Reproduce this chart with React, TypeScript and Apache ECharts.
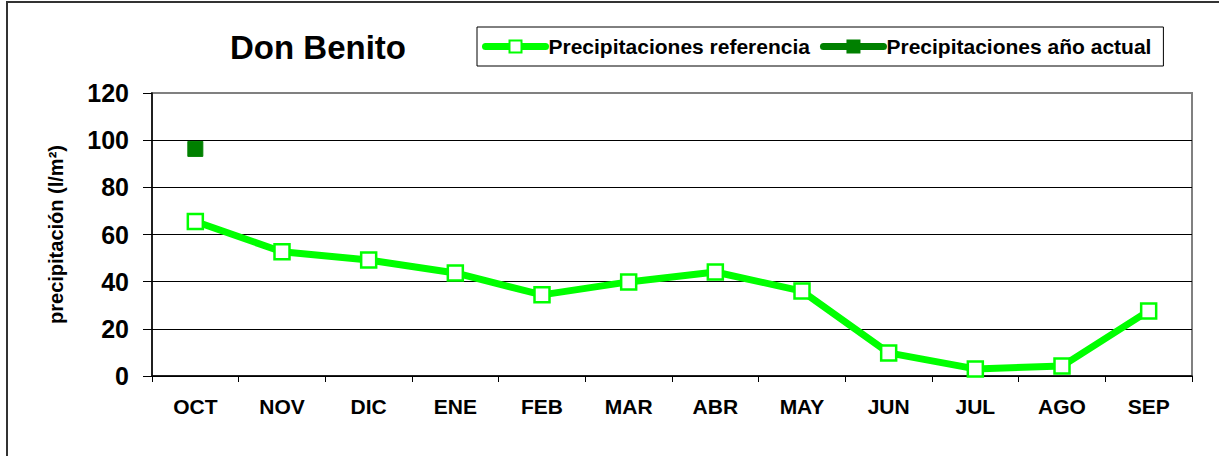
import React, { useEffect, useRef } from "react";
import * as echarts from "echarts";

const months = ["OCT", "NOV", "DIC", "ENE", "FEB", "MAR", "ABR", "MAY", "JUN", "JUL", "AGO", "SEP"];
const referencia = [65.5, 52.7, 49.2, 43.7, 34.4, 39.9, 44.1, 36, 9.8, 3, 4.2, 27.6];
const actual: (number | null)[] = [96.3, null, null, null, null, null, null, null, null, null, null, null];
const yTicks = { min: 0, max: 120, interval: 20 };

const FONT = "Liberation Sans, Arial, sans-serif";

export default function App() {
  const ref = useRef<HTMLDivElement>(null);
  useEffect(() => {
    if (!ref.current) return;
    const chart = echarts.init(ref.current, undefined, { renderer: "svg" });
    chart.setOption({
      animation: false,
      backgroundColor: "#fff",
      textStyle: { fontFamily: FONT },
      title: {
        text: "Don Benito",
        left: 313,
        top: 26,
        textAlign: "center",
        textStyle: { fontFamily: FONT, fontSize: 33, fontWeight: "bold", color: "#000" },
      },
      legend: {
        left: 477,
        top: 27,
        padding: [9, 12, 9, 5],
        itemGap: 10,
        itemWidth: 60,
        itemHeight: 15,
        borderColor: "#000",
        borderWidth: 1,
        borderRadius: 0,
        backgroundColor: "#fff",
        lineStyle: { width: 7, cap: "round" },
        textStyle: { fontFamily: FONT, fontSize: 21, fontWeight: "bold", color: "#000", padding: [0, 0, 0, -2] },
        data: ["Precipitaciones referencia", "Precipitaciones año actual"],
      },
      grid: {
        left: 152,
        right: 27,
        top: 93,
        bottom: 80,
        show: true,
        borderColor: "#808080",
        borderWidth: 2,
      },
      xAxis: {
        type: "category",
        data: months,
        boundaryGap: true,
        axisLine: { lineStyle: { color: "#000", width: 1.5 } },
        axisTick: { show: true, interval: 0, length: 6, lineStyle: { color: "#000" } },
        axisLabel: { fontFamily: FONT, fontSize: 21, fontWeight: "bold", color: "#000", margin: 20, interval: 0 },
      },
      yAxis: {
        type: "value",
        min: yTicks.min,
        max: yTicks.max,
        interval: yTicks.interval,
        name: "precipitación (l/m²)",
        nameLocation: "middle",
        nameGap: 86,
        nameRotate: 90,
        nameTextStyle: { fontFamily: FONT, fontSize: 20, fontWeight: "bold", color: "#000" },
        axisLine: { show: true, lineStyle: { color: "#000", width: 1.5 } },
        axisTick: { show: true, length: 9, lineStyle: { color: "#000" } },
        axisLabel: { fontFamily: FONT, fontSize: 25, fontWeight: "bold", color: "#000", margin: 23 },
        splitLine: {
          show: true,
          lineStyle: { color: ["#000", "#000", "#000", "#000", "#000", "#000", "#808080"], width: 1 },
        },
      },
      graphic: [
        {
          type: "rect",
          shape: { x: 7, y: 2, width: 1400, height: 600 },
          style: { fill: "none", stroke: "#333", lineWidth: 2 },
          silent: true,
          z: -10,
        },
      ],
      series: [
        {
          name: "Precipitaciones referencia",
          type: "line",
          data: referencia,
          symbol: "rect",
          symbolSize: 15,
          lineStyle: { color: "#00ff00", width: 7 },
          itemStyle: { color: "#fff", borderColor: "#00ff00", borderWidth: 2.5 },
          z: 3,
        },
        {
          name: "Precipitaciones año actual",
          type: "line",
          data: actual,
          symbol: "rect",
          symbolSize: 15,
          showAllSymbol: true,
          lineStyle: { color: "#008000", width: 7 },
          itemStyle: { color: "#008000", borderColor: "#008000", borderWidth: 1 },
          z: 4,
        },
      ],
    });
    return () => chart.dispose();
  }, []);
  return <div ref={ref} style={{ width: 1219, height: 456, position: "absolute", left: 0, top: 0 }} />;
}
